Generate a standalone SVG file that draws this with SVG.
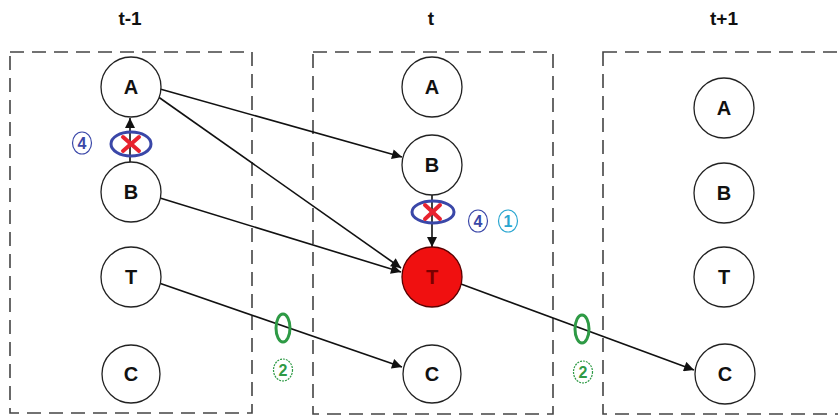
<svg xmlns="http://www.w3.org/2000/svg" width="838" height="418" viewBox="0 0 838 418">
<style>
.box{fill:none;stroke:#444;stroke-width:1.6;stroke-dasharray:14 8}
.node{fill:#fff;stroke:#222;stroke-width:1.3}
.lbl{font-family:"Liberation Sans",Arial,sans-serif;font-weight:bold;font-size:20px;fill:#111;text-anchor:middle;dominant-baseline:central}
.title{font-family:"Liberation Sans",Arial,sans-serif;font-weight:bold;font-size:19px;fill:#111;text-anchor:middle}
.edge{stroke:#111;stroke-width:1.6;fill:none;marker-end:url(#ah)}
.block{fill:none;stroke:#3a47a8;stroke-width:3}
.x{stroke:#e8232f;stroke-width:4;stroke-linecap:round}
.mark{fill:#fff;stroke-width:1.2}
.mtxt{font-family:"Liberation Sans",Arial,sans-serif;font-weight:bold;font-size:16px;text-anchor:middle;dominant-baseline:central}
.green{fill:none;stroke:#2e9a45;stroke-width:3}
</style>
<defs>
<marker id="ah" viewBox="0 0 10 10" refX="10" refY="5" markerWidth="11" markerHeight="10" markerUnits="userSpaceOnUse" orient="auto">
<path d="M0,0 L10,5 L0,10 z" fill="#111"/>
</marker>
</defs>
<rect width="838" height="418" fill="#fff"/>
<g id="titles">
<text class="title" x="130" y="25">t-1</text>
<text class="title" x="431" y="25">t</text>
<text class="title" x="724" y="25">t+1</text>
</g>
<g id="frames">
<rect class="box" x="10" y="52" width="242" height="361"/>
<rect class="box" x="313" y="52" width="240" height="362"/>
<rect class="box" x="603" y="52" width="250" height="362"/>
</g>
<g id="connectors">
<line class="edge" x1="130" y1="163" x2="130" y2="118"/>
<line class="edge" x1="160" y1="89" x2="402" y2="157"/>
<line class="edge" x1="157" y1="96" x2="401" y2="268"/>
<line class="edge" x1="160" y1="198" x2="401" y2="272"/>
<line class="edge" x1="159" y1="283" x2="402" y2="367"/>
<line class="edge" x1="432" y1="195" x2="432" y2="247"/>
<line class="edge" x1="461" y1="284" x2="694" y2="370"/>
</g>
<g id="n-A1"><circle class="node" cx="131" cy="87" r="30"/><text class="lbl" x="131" y="87">A</text></g>
<g id="n-B1"><circle class="node" cx="131" cy="192" r="30"/><text class="lbl" x="131" y="192">B</text></g>
<g id="n-T1"><circle class="node" cx="131" cy="277" r="30"/><text class="lbl" x="131" y="277">T</text></g>
<g id="n-C1"><circle class="node" cx="131" cy="374" r="29"/><text class="lbl" x="131" y="374">C</text></g>
<g id="n-A2"><circle class="node" cx="432" cy="87" r="30"/><text class="lbl" x="432" y="87">A</text></g>
<g id="n-B2"><circle class="node" cx="432" cy="165" r="30"/><text class="lbl" x="432" y="165">B</text></g>
<g id="n-T2"><circle cx="432" cy="277" r="30" fill="#f01010" stroke="#5a0000" stroke-width="1.3"/><text class="lbl" x="432" y="277" style="fill:#7a0000">T</text></g>
<g id="n-C2"><circle class="node" cx="432" cy="374" r="29"/><text class="lbl" x="432" y="374">C</text></g>
<g id="n-A3"><circle class="node" cx="724" cy="108" r="30"/><text class="lbl" x="724" y="108">A</text></g>
<g id="n-B3"><circle class="node" cx="724" cy="193" r="30"/><text class="lbl" x="724" y="193">B</text></g>
<g id="n-T3"><circle class="node" cx="724" cy="277" r="30"/><text class="lbl" x="724" y="277">T</text></g>
<g id="n-C3"><circle class="node" cx="725" cy="374" r="30"/><text class="lbl" x="725" y="374">C</text></g>
<g id="block-left">
<ellipse class="block" cx="131" cy="144" rx="20" ry="12"/>
<line class="x" x1="123" y1="137" x2="139" y2="151"/>
<line class="x" x1="139" y1="137" x2="123" y2="151"/>
<ellipse class="mark" cx="82" cy="143" rx="9.5" ry="11" stroke="#3a47a8"/>
<text class="mtxt" x="82" y="143" fill="#3a47a8">4</text>
</g>
<g id="block-mid">
<ellipse class="block" cx="433" cy="212" rx="21" ry="11"/>
<line class="x" x1="425" y1="205" x2="440" y2="219"/>
<line class="x" x1="440" y1="205" x2="425" y2="219"/>
<ellipse class="mark" cx="478" cy="221" rx="9.5" ry="11" stroke="#3a47a8"/>
<text class="mtxt" x="478" y="221" fill="#3a47a8">4</text>
<ellipse class="mark" cx="508" cy="221" rx="9.5" ry="11" stroke="#2aa6d0"/>
<text class="mtxt" x="508" y="221" fill="#2aa6d0">1</text>
</g>
<g id="cut-1">
<ellipse class="green" cx="283" cy="328" rx="7" ry="14"/>
<ellipse class="mark" cx="283" cy="370" rx="9.5" ry="11" stroke="#2e9a45" stroke-dasharray="2 1"/>
<text class="mtxt" x="283" y="370" fill="#2e9a45">2</text>
</g>
<g id="cut-2">
<ellipse class="green" cx="582" cy="329" rx="7" ry="14"/>
<ellipse class="mark" cx="583" cy="372" rx="9.5" ry="11" stroke="#2e9a45" stroke-dasharray="2 1"/>
<text class="mtxt" x="583" y="372" fill="#2e9a45">2</text>
</g>
</svg>
